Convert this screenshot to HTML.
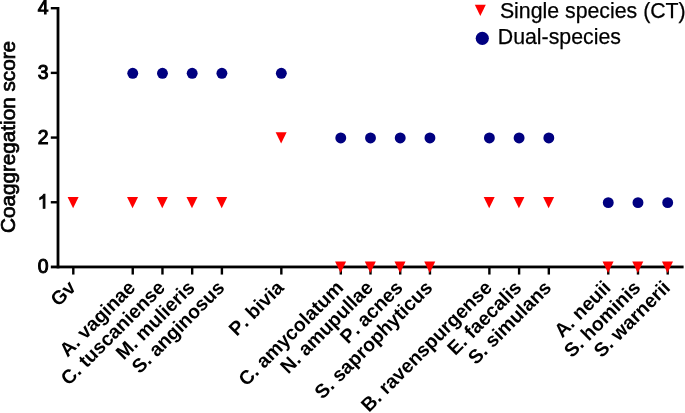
<!DOCTYPE html>
<html><head><meta charset="utf-8"><title>Coaggregation score</title>
<style>html,body{margin:0;padding:0;background:#fff;}body{width:685px;height:413px;overflow:hidden;}svg{display:block;will-change:transform;}text{font-family:"Liberation Sans",sans-serif;fill:#000;font-kerning:none;}.b{font-weight:bold;}</style></head><body>
<svg width="685" height="413" viewBox="0 0 685 413">
<rect x="0" y="0" width="685" height="413" fill="#ffffff"/>
<rect x="56.60" y="7.00" width="2.8" height="261.35" fill="#000"/>
<rect x="50.80" y="265.55" width="632.80" height="2.8" fill="#000"/>
<rect x="50.80" y="201.06" width="6.3" height="2.4" fill="#000"/>
<rect x="50.80" y="136.38" width="6.3" height="2.4" fill="#000"/>
<rect x="50.80" y="71.69" width="6.3" height="2.4" fill="#000"/>
<rect x="50.80" y="7.00" width="6.3" height="2.4" fill="#000"/>
<text x="48.5" y="272.95" font-size="19.4" text-anchor="end" stroke="#000" stroke-width="1.0">0</text>
<path d="M763 0H583V1147Q518 1085 412.5 1023Q307 961 223 930V1104Q374 1175 487 1276Q600 1377 647 1472H763Z" transform="translate(37.71 208.26) scale(0.00947 -0.00947)" fill="#000" stroke="#000" stroke-width="105.6"/>
<text x="48.5" y="143.57" font-size="19.4" text-anchor="end" stroke="#000" stroke-width="1.0">2</text>
<text x="48.5" y="78.89" font-size="19.4" text-anchor="end" stroke="#000" stroke-width="1.0">3</text>
<text x="48.5" y="14.20" font-size="19.4" text-anchor="end" stroke="#000" stroke-width="1.0">4</text>
<rect x="72.10" y="267.85" width="2.4" height="6.7" fill="#000"/>
<rect x="131.54" y="267.85" width="2.4" height="6.7" fill="#000"/>
<rect x="161.26" y="267.85" width="2.4" height="6.7" fill="#000"/>
<rect x="190.98" y="267.85" width="2.4" height="6.7" fill="#000"/>
<rect x="220.70" y="267.85" width="2.4" height="6.7" fill="#000"/>
<rect x="280.14" y="267.85" width="2.4" height="6.7" fill="#000"/>
<rect x="339.58" y="267.85" width="2.4" height="6.7" fill="#000"/>
<rect x="369.30" y="267.85" width="2.4" height="6.7" fill="#000"/>
<rect x="399.02" y="267.85" width="2.4" height="6.7" fill="#000"/>
<rect x="428.74" y="267.85" width="2.4" height="6.7" fill="#000"/>
<rect x="488.18" y="267.85" width="2.4" height="6.7" fill="#000"/>
<rect x="517.90" y="267.85" width="2.4" height="6.7" fill="#000"/>
<rect x="547.62" y="267.85" width="2.4" height="6.7" fill="#000"/>
<rect x="607.06" y="267.85" width="2.4" height="6.7" fill="#000"/>
<rect x="636.78" y="267.85" width="2.4" height="6.7" fill="#000"/>
<rect x="666.50" y="267.85" width="2.4" height="6.7" fill="#000"/>
<text x="15.3" y="137.0" font-size="20.7" text-anchor="middle" stroke="#000" stroke-width="0.7" transform="rotate(-90 15.3 137.0)">Coaggregation score</text>
<text class="b" x="77.00" y="288.80" font-size="19.5" text-anchor="end" transform="rotate(-45 77.00 288.80)">Gv</text>
<text class="b" x="136.44" y="288.80" font-size="19.5" text-anchor="end" transform="rotate(-45 136.44 288.80)">A. vaginae</text>
<text class="b" x="166.16" y="288.80" font-size="19.5" text-anchor="end" transform="rotate(-45 166.16 288.80)">C. tuscaniense</text>
<text class="b" x="195.88" y="288.80" font-size="19.5" text-anchor="end" transform="rotate(-45 195.88 288.80)">M. mulieris</text>
<text class="b" x="225.60" y="288.80" font-size="19.5" text-anchor="end" transform="rotate(-45 225.60 288.80)">S. anginosus</text>
<text class="b" x="285.04" y="288.80" font-size="19.5" text-anchor="end" transform="rotate(-45 285.04 288.80)">P. bivia</text>
<text class="b" x="344.48" y="288.80" font-size="19.5" text-anchor="end" transform="rotate(-45 344.48 288.80)">C. amycolatum</text>
<text class="b" x="374.20" y="288.80" font-size="19.5" text-anchor="end" transform="rotate(-45 374.20 288.80)">N. amupullae</text>
<text class="b" x="403.92" y="288.80" font-size="19.5" text-anchor="end" transform="rotate(-45 403.92 288.80)">P. acnes</text>
<text class="b" x="433.64" y="288.80" font-size="19.5" text-anchor="end" transform="rotate(-45 433.64 288.80)">S. saprophyticus</text>
<text class="b" x="493.08" y="288.80" font-size="19.5" text-anchor="end" transform="rotate(-45 493.08 288.80)">B. ravenspurgense</text>
<text class="b" x="522.80" y="288.80" font-size="19.5" text-anchor="end" transform="rotate(-45 522.80 288.80)">E. faecalis</text>
<text class="b" x="552.52" y="288.80" font-size="19.5" text-anchor="end" transform="rotate(-45 552.52 288.80)">S. simulans</text>
<text class="b" x="611.96" y="288.80" font-size="19.5" text-anchor="end" transform="rotate(-45 611.96 288.80)">A. neuii</text>
<text class="b" x="641.68" y="288.80" font-size="19.5" text-anchor="end" transform="rotate(-45 641.68 288.80)">S. hominis</text>
<text class="b" x="671.40" y="288.80" font-size="19.5" text-anchor="end" transform="rotate(-45 671.40 288.80)">S. warnerii</text>
<circle cx="132.74" cy="73.29" r="5.45" fill="#000080"/>
<circle cx="162.46" cy="73.29" r="5.45" fill="#000080"/>
<circle cx="192.18" cy="73.29" r="5.45" fill="#000080"/>
<circle cx="221.90" cy="73.29" r="5.45" fill="#000080"/>
<circle cx="281.34" cy="73.29" r="5.45" fill="#000080"/>
<circle cx="340.78" cy="137.97" r="5.45" fill="#000080"/>
<circle cx="370.50" cy="137.97" r="5.45" fill="#000080"/>
<circle cx="400.22" cy="137.97" r="5.45" fill="#000080"/>
<circle cx="429.94" cy="137.97" r="5.45" fill="#000080"/>
<circle cx="489.38" cy="137.97" r="5.45" fill="#000080"/>
<circle cx="519.10" cy="137.97" r="5.45" fill="#000080"/>
<circle cx="548.82" cy="137.97" r="5.45" fill="#000080"/>
<circle cx="608.26" cy="202.66" r="5.45" fill="#000080"/>
<circle cx="637.98" cy="202.66" r="5.45" fill="#000080"/>
<circle cx="667.70" cy="202.66" r="5.45" fill="#000080"/>
<polygon points="67.60,196.91 78.60,196.91 73.10,208.21" fill="#ff0000"/>
<polygon points="127.04,196.91 138.04,196.91 132.54,208.21" fill="#ff0000"/>
<polygon points="156.76,196.91 167.76,196.91 162.26,208.21" fill="#ff0000"/>
<polygon points="186.48,196.91 197.48,196.91 191.98,208.21" fill="#ff0000"/>
<polygon points="216.20,196.91 227.20,196.91 221.70,208.21" fill="#ff0000"/>
<polygon points="275.64,132.22 286.64,132.22 281.14,143.53" fill="#ff0000"/>
<polygon points="335.08,261.60 346.08,261.60 340.58,272.90" fill="#ff0000"/>
<polygon points="364.80,261.60 375.80,261.60 370.30,272.90" fill="#ff0000"/>
<polygon points="394.52,261.60 405.52,261.60 400.02,272.90" fill="#ff0000"/>
<polygon points="424.24,261.60 435.24,261.60 429.74,272.90" fill="#ff0000"/>
<polygon points="483.68,196.91 494.68,196.91 489.18,208.21" fill="#ff0000"/>
<polygon points="513.40,196.91 524.40,196.91 518.90,208.21" fill="#ff0000"/>
<polygon points="543.12,196.91 554.12,196.91 548.62,208.21" fill="#ff0000"/>
<polygon points="602.56,261.60 613.56,261.60 608.06,272.90" fill="#ff0000"/>
<polygon points="632.28,261.60 643.28,261.60 637.78,272.90" fill="#ff0000"/>
<polygon points="662.00,261.60 673.00,261.60 667.50,272.90" fill="#ff0000"/>
<polygon points="474.80,4.75 485.80,4.75 480.30,16.05" fill="#ff0000"/>
<circle cx="482.3" cy="38.35" r="6.6" fill="#000080"/>
<text x="499.9" y="17.7" font-size="21.3" stroke="#000" stroke-width="0.25">Single species (CT)</text>
<text x="497.8" y="44.15" font-size="21.3" stroke="#000" stroke-width="0.25">Dual-species</text>
</svg></body></html>
